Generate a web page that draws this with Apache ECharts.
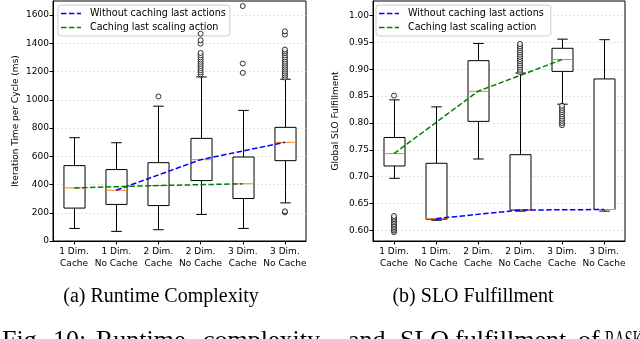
<!DOCTYPE html>
<html>
<head>
<meta charset="utf-8">
<script src="https://cdn.jsdelivr.net/npm/echarts@6/dist/echarts.min.js"></script>
<style>
html,body{margin:0;padding:0;background:#fff;}
#chart{width:640px;height:339px;}
</style>
</head>
<body>
<div id="chart"></div>
<script>
// ---------- DATA ----------
const categories = ['1 Dim.\nCache', '1 Dim.\nNo Cache', '2 Dim.\nCache', '2 Dim.\nNo Cache', '3 Dim.\nCache', '3 Dim.\nNo Cache'];

// (a) Runtime complexity (ms)
const rtMin = [89, 68, 80, 188, 89, 270];
const rtQ1  = [233, 259, 251, 428, 301, 569];
const rtMed = [376, 360, 393, 576, 405, 699];
const rtQ3  = [534, 506, 555, 727, 595, 805];
const rtMax = [732, 696, 955, 1162, 925, 1146];
const rtOutliers = [
  [2, 1024],
  [3, 1181], [3, 1195], [3, 1210], [3, 1225], [3, 1240], [3, 1255], [3, 1270], [3, 1285], [3, 1300], [3, 1316], [3, 1332], [3, 1398], [3, 1421], [3, 1468],
  [4, 1191], [4, 1257], [4, 1664],
  [5, 203], [5, 210], [5, 1158], [5, 1172], [5, 1186], [5, 1200], [5, 1214], [5, 1228], [5, 1242], [5, 1256], [5, 1270], [5, 1285], [5, 1300], [5, 1315], [5, 1330], [5, 1343], [5, 1356], [5, 1462], [5, 1485]
];
const rtTicks = [0, 200, 400, 600, 800, 1000, 1200, 1400, 1600];

// (b) SLO fulfillment
const sloMin = [0.697, 0.619, 0.733, 0.636, 0.835, 0.636];
const sloQ1  = [0.720, 0.621, 0.803, 0.638, 0.896, 0.639];
const sloMed = [0.743, 0.622, 0.859, 0.638, 0.918, 0.639];
const sloQ3  = [0.773, 0.725, 0.916, 0.741, 0.939, 0.882];
const sloMax = [0.843, 0.830, 0.948, 0.893, 0.956, 0.955];
const sloOutliers = [
  [0, 0.851], [0, 0.597], [0, 0.600], [0, 0.603], [0, 0.606], [0, 0.609], [0, 0.612], [0, 0.615], [0, 0.618], [0, 0.621], [0, 0.624], [0, 0.627],
  [3, 0.895], [3, 0.899], [3, 0.903], [3, 0.907], [3, 0.911], [3, 0.915], [3, 0.919], [3, 0.923], [3, 0.927], [3, 0.931], [3, 0.935], [3, 0.939], [3, 0.943], [3, 0.947],
  [4, 0.796], [4, 0.800], [4, 0.804], [4, 0.808], [4, 0.812], [4, 0.816], [4, 0.820], [4, 0.824], [4, 0.828], [4, 0.832]
];
const sloTicks = [0.60, 0.65, 0.70, 0.75, 0.80, 0.85, 0.90, 0.95, 1.00];

const legendNames = ['Without caching last actions', 'Caching last scaling action'];
const noCacheIdx = [1, 3, 5];
const cacheIdx = [0, 2, 4];

const captionA = '(a) Runtime Complexity';
const captionB = '(b) SLO Fulfillment';
const figWords = ['Fig.', '10:', 'Runtime', 'complexity', 'and', 'SLO', 'fulfillment', 'of', 'RASK'];

// ---------- BUILD ----------
const FONT = 'DejaVu Sans';
function boxData(mn, q1, md, q3, mx) {
  return mn.map((v, i) => [i, v, q1[i], md[i], q3[i], mx[i]]);
}
function renderBox(params, api) {
  const x = api.value(0);
  const unit = api.size([1, 0])[0];
  const hw = unit * 0.25, cw = unit * 0.125;
  const pMin = api.coord([x, api.value(1)]);
  const pQ1 = api.coord([x, api.value(2)]);
  const pMed = api.coord([x, api.value(3)]);
  const pQ3 = api.coord([x, api.value(4)]);
  const pMax = api.coord([x, api.value(5)]);
  const cx = Math.round(pMin[0]) + 0.5;
  const ls = {stroke: '#000', lineWidth: 1, fill: null};
  return {
    type: 'group',
    children: [
      {type: 'line', shape: {x1: cx, y1: pQ1[1], x2: cx, y2: pMin[1]}, style: ls},
      {type: 'line', shape: {x1: cx, y1: pQ3[1], x2: cx, y2: pMax[1]}, style: ls},
      {type: 'line', shape: {x1: cx - cw, y1: pMin[1], x2: cx + cw, y2: pMin[1]}, style: ls},
      {type: 'line', shape: {x1: cx - cw, y1: pMax[1], x2: cx + cw, y2: pMax[1]}, style: ls},
      {type: 'rect', shape: {x: cx - hw, y: pQ3[1], width: 2 * hw, height: pQ1[1] - pQ3[1]}, style: {stroke: '#000', lineWidth: 1, fill: '#fff'}},
      {type: 'line', shape: {x1: cx - hw, y1: pMed[1], x2: cx + hw, y2: pMed[1]}, style: {stroke: '#ff7f0e', lineWidth: 1}}
    ]
  };
}
function yAxisCfg(gi, min, max, ticks, name, fmt) {
  return {
    type: 'value', gridIndex: gi, min: min, max: max,
    name: name, nameLocation: 'middle', nameGap: 33,
    nameTextStyle: {fontFamily: FONT, fontSize: 9, color: '#000'},
    axisLine: {show: true, lineStyle: {color: '#000', width: 1}},
    axisTick: {show: true, length: 3.5, inside: false, customValues: ticks, lineStyle: {color: '#000'}},
    axisLabel: {customValues: ticks, fontFamily: FONT, fontSize: 9, color: '#000', margin: 4, formatter: fmt},
    splitLine: {show: true, lineStyle: {color: '#d9d9d9', type: [2, 2], width: 0.8}}
  };
}
function xAxisCfg(gi) {
  return {
    type: 'category', gridIndex: gi, data: categories, boundaryGap: true,
    axisLine: {show: true, lineStyle: {color: '#000', width: 1}},
    axisTick: {show: true, alignWithLabel: true, length: 3.5, lineStyle: {color: '#000'}},
    axisLabel: {fontFamily: FONT, fontSize: 9, color: '#000', margin: 5, lineHeight: 12, interval: 0},
    splitLine: {show: false}
  };
}
function lineSeries(name, gi, idx, meds, color) {
  return {
    name: name, type: 'line', xAxisIndex: gi, yAxisIndex: gi,
    data: idx.map(i => [i, meds[i]]), symbol: 'none', z: 5,
    lineStyle: {color: color, width: 1.5, type: [5.5, 2.4]},
    itemStyle: {color: color}
  };
}
function outlierSeries(gi, data) {
  return {
    type: 'scatter', xAxisIndex: gi, yAxisIndex: gi, data: data,
    symbol: 'circle', symbolSize: 5, z: 4,
    itemStyle: {color: '#fff', borderColor: '#000', borderWidth: 1}
  };
}
const DASH_ICON = 'path://M0,0h5.5v1.5h-5.5z M7.9,0h5.5v1.5h-5.5z M15.8,0h4.2v1.5h-4.2z';
function legendCfg(left, suffix) {
  return {
    left: left, top: 5, orient: 'vertical', itemGap: 3,
    itemWidth: 20, itemHeight: 1.5, padding: [3, 4, 3, 3],
    backgroundColor: 'rgba(255,255,255,0.8)', borderColor: '#cccccc', borderWidth: 1, borderRadius: 3,
    textStyle: {fontFamily: FONT, fontSize: 9.6, color: '#000', lineHeight: 11, padding: [0, 0, 0, 4]},
    data: legendNames.map(n => ({name: n + suffix, icon: DASH_ICON}))
  };
}
const figText = [];
(function () {
  // justified caption line: words spread over the width
  const starts = [2, 53, 96, 203, 348, 400, 455, 578, 605];
  figWords.forEach((w, i) => figText.push({
    type: 'text', x: starts[i], y: 328,
    scaleX: i === figWords.length - 1 ? 0.55 : 1,
    style: {text: w, font: '26px "Liberation Serif"', fill: '#000', verticalAlign: 'top'}
  }));
})();

const chart = echarts.init(document.getElementById('chart'), null, {renderer: 'canvas'});
chart.setOption({
  animation: false,
  grid: [
    {left: 53, right: 334, top: 1, bottom: 98, show: true, borderColor: '#000', borderWidth: 1, backgroundColor: 'transparent'},
    {left: 373, right: 15, top: 1, bottom: 98, show: true, borderColor: '#000', borderWidth: 1, backgroundColor: 'transparent'}
  ],
  xAxis: [xAxisCfg(0), xAxisCfg(1)],
  yAxis: [
    yAxisCfg(0, 0, 1700, rtTicks, 'Iteration Time per Cycle (ms)', v => String(Math.round(v))),
    yAxisCfg(1, 0.5804, 1.027, sloTicks, 'Global SLO Fulfillment', v => v.toFixed(2))
  ],
  legend: [legendCfg(58, ''), legendCfg(376, ' ')],
  series: [
    {type: 'custom', xAxisIndex: 0, yAxisIndex: 0, renderItem: renderBox, data: boxData(rtMin, rtQ1, rtMed, rtQ3, rtMax), z: 3},
    outlierSeries(0, rtOutliers),
    lineSeries(legendNames[0], 0, noCacheIdx, rtMed, '#0000ff'),
    lineSeries(legendNames[1], 0, cacheIdx, rtMed, '#008000'),
    {type: 'custom', xAxisIndex: 1, yAxisIndex: 1, renderItem: renderBox, data: boxData(sloMin, sloQ1, sloMed, sloQ3, sloMax), z: 3},
    outlierSeries(1, sloOutliers),
    lineSeries(legendNames[0] + ' ', 1, noCacheIdx, sloMed, '#0000ff'),
    lineSeries(legendNames[1] + ' ', 1, cacheIdx, sloMed, '#008000')
  ],
  graphic: [
    {type: 'text', x: 161, y: 287, style: {text: captionA, font: '20px "Liberation Serif"', fill: '#000', align: 'center', verticalAlign: 'top'}},
    {type: 'text', x: 473, y: 287, style: {text: captionB, font: '20px "Liberation Serif"', fill: '#000', align: 'center', verticalAlign: 'top'}}
  ].concat(figText)
});
</script>
</body>
</html>
